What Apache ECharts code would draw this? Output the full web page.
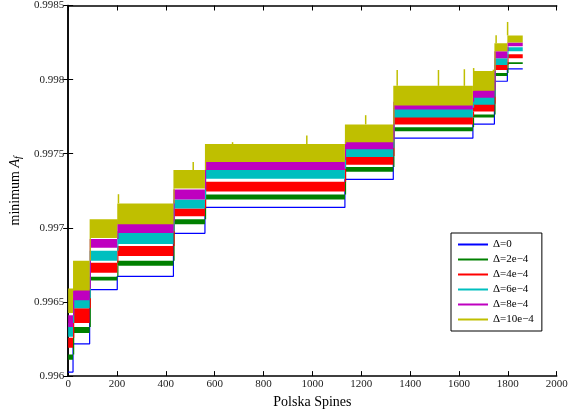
<!DOCTYPE html>
<html>
<head>
<meta charset="utf-8">
<script src="https://cdn.jsdelivr.net/npm/echarts@6/dist/echarts.min.js"></script>
<style>
  html, body { margin: 0; padding: 0; background: #fff; }
  #main { width: 577px; height: 414px; }
</style>
</head>
<body>
<div id="main"></div>
<script>
// step boundaries on the x axis (shared by all series)
const segX = [0, 20, 88, 201, 431, 560, 1133, 1331, 1657, 1745, 1798, 1861];

// Δ=0, one level per segment
const blueLevel = [0.996027, 0.996218, 0.996583, 0.996673, 0.996963, 0.997138, 0.997327, 0.997605, 0.9977, 0.997989, 0.998073];

// noisy series: lower / upper edge of the band per segment
const greenLow  = [0.996111, 0.996291, 0.996645, 0.996745, 0.997025, 0.997191, 0.997378, 0.997651, 0.997745, 0.998025, 0.998105];
const greenHigh = [0.996145, 0.996331, 0.996671, 0.996778, 0.997058, 0.997225, 0.997411, 0.997678, 0.997765, 0.998045, 0.998118];
const redLow    = [0.996191, 0.996358, 0.996698, 0.996811, 0.997078, 0.997245, 0.997425, 0.997698, 0.997785, 0.998065, 0.998145];
const redHigh   = [0.996258, 0.996458, 0.996765, 0.996878, 0.997131, 0.997311, 0.997485, 0.997751, 0.997838, 0.998098, 0.998171];
const cyanLow   = [0.996265, 0.996458, 0.996778, 0.996891, 0.997131, 0.997331, 0.997478, 0.997745, 0.997831, 0.998098, 0.998191];
const cyanHigh  = [0.996358, 0.996525, 0.996845, 0.996978, 0.997191, 0.997398, 0.997538, 0.997811, 0.997885, 0.998145, 0.998218];
const magLow    = [0.996331, 0.996511, 0.996865, 0.996965, 0.997191, 0.997391, 0.997531, 0.997798, 0.997878, 0.998145, 0.998225];
const magHigh   = [0.996411, 0.996591, 0.996925, 0.997045, 0.997258, 0.997458, 0.997591, 0.997851, 0.997931, 0.998191, 0.998251];
const yelLow    = [0.996425, 0.996578, 0.996931, 0.997025, 0.997265, 0.997445, 0.997578, 0.997825, 0.997925, 0.998191, 0.998251];
const yelHigh   = [0.996591, 0.996778, 0.997058, 0.997165, 0.997391, 0.997565, 0.997698, 0.997958, 0.998058, 0.998245, 0.998298];

// tallest spikes of Δ=10e-4 [x, top]
const yelSpikes = [[206, 0.997227], [512, 0.997445], [673, 0.997578], [977, 0.997623], [1218, 0.99776],
                   [1347, 0.998065], [1516, 0.998065], [1622, 0.99807], [1660, 0.998078], [1741, 0.998067],
                   [1752, 0.9983], [1799, 0.998389]];

const names = ['Δ=0', 'Δ=2e−4', 'Δ=4e−4', 'Δ=6e−4', 'Δ=8e−4', 'Δ=10e−4'];
const colors = ['#0000ff', '#008000', '#ff0000', '#00bfbf', '#bf00bf', '#bfbf00'];

const FONT = 'Liberation Serif';

function bandData(low, high) {
  return low.map((v, i) => [segX[i], segX[i + 1], v, high[i], i > 0 ? high[i - 1] : v]);
}

function renderBand(params, api) {
  const p0 = api.coord([api.value(0), api.value(3)]);
  const p1 = api.coord([api.value(1), api.value(2)]);
  const j = api.coord([api.value(0), api.value(4)]);
  const color = api.visual('color');
  return {
    type: 'group',
    children: [{
      type: 'rect',
      shape: { x: p0[0], y: p0[1], width: p1[0] - p0[0], height: p1[1] - p0[1] },
      style: { fill: color }
    }, {
      type: 'rect',
      shape: { x: p0[0], y: Math.min(j[1], p1[1]), width: 1.2, height: Math.abs(j[1] - p1[1]) },
      style: { fill: color }
    }]
  };
}

function bandSeries(idx, low, high) {
  return {
    name: names[idx],
    type: 'custom',
    renderItem: renderBand,
    itemStyle: { color: colors[idx] },
    encode: { x: [0, 1], y: [2, 3] },
    data: bandData(low, high),
    clip: true,
    z: 2 + idx
  };
}

function segOf(x) {
  let k = 0;
  for (let i = 0; i < segX.length - 1; i++) if (x >= segX[i]) k = i;
  return k;
}

const blueData = segX.map((x, i) => [x, blueLevel[Math.min(i, blueLevel.length - 1)]]);

const chart = echarts.init(document.getElementById('main'));
chart.setOption({
  animation: false,
  textStyle: { fontFamily: FONT },
  grid: { left: 66.7, right: 20.3, top: 1, bottom: 37.3 },
  legend: {
    orient: 'vertical',
    left: 451,
    top: 233,
    data: names,
    icon: 'rect',
    itemWidth: 30,
    itemHeight: 2,
    itemGap: 4,
    padding: [6, 8, 6, 7],
    borderColor: '#000',
    borderWidth: 1,
    backgroundColor: '#fff',
    textStyle: { fontFamily: FONT, fontSize: 11, color: '#000' }
  },
  xAxis: [{
    type: 'value', min: 0, max: 2000, interval: 200,
    name: 'Polska Spines', nameLocation: 'middle', nameGap: 15,
    nameTextStyle: { fontFamily: FONT, fontSize: 14, color: '#000' },
    axisLine: { lineStyle: { color: '#000', width: 1.5 } },
    axisTick: { inside: true, length: 5, lineStyle: { color: '#000' } },
    axisLabel: { fontFamily: FONT, fontSize: 11, color: '#222', margin: 3, formatter: v => String(v) },
    splitLine: { show: false }
  }, {
    type: 'value', min: 0, max: 2000, interval: 200, position: 'top',
    axisLine: { lineStyle: { color: '#000', width: 1.5 } },
    axisTick: { inside: true, length: 5, lineStyle: { color: '#000' } },
    axisLabel: { show: false },
    splitLine: { show: false }
  }],
  yAxis: [{
    type: 'value', min: 0.996, max: 0.9985, interval: 0.0005,
    name: '{n|minimum }{i|A}{s|f}', nameLocation: 'middle', nameGap: 43,
    nameTextStyle: {
      fontFamily: FONT, fontSize: 14, color: '#000',
      rich: {
        n: { fontFamily: FONT, fontSize: 14, color: '#000' },
        i: { fontFamily: FONT, fontSize: 14, fontStyle: 'italic', color: '#000' },
        s: { fontFamily: FONT, fontSize: 10, fontStyle: 'italic', color: '#000', padding: [6, 0, 0, 0] }
      }
    },
    axisLine: { lineStyle: { color: '#000', width: 1.5 } },
    axisTick: { inside: true, length: 5, lineStyle: { color: '#000' } },
    axisLabel: {
      fontFamily: FONT, fontSize: 11, color: '#222', margin: 4,
      formatter: v => String(+v.toFixed(4))
    },
    splitLine: { show: false }
  }, {
    type: 'value', min: 0.996, max: 0.9985, interval: 0.0005, position: 'right',
    axisLine: { show: true, lineStyle: { color: '#000', width: 1.5 } },
    axisTick: { inside: true, length: 5, lineStyle: { color: '#000' } },
    axisLabel: { show: false },
    splitLine: { show: false }
  }],
  series: [
    {
      name: names[0],
      type: 'line',
      step: 'end',
      symbol: 'none',
      data: blueData,
      itemStyle: { color: colors[0] },
      lineStyle: { color: colors[0], width: 1.2 },
      z: 1
    },
    bandSeries(1, greenLow, greenHigh),
    bandSeries(2, redLow, redHigh),
    bandSeries(3, cyanLow, cyanHigh),
    bandSeries(4, magLow, magHigh),
    bandSeries(5, yelLow, yelHigh),
    {
      name: names[5],
      type: 'custom',
      itemStyle: { color: colors[5] },
      encode: { x: 0, y: 1 },
      data: yelSpikes,
      z: 8,
      renderItem: function (params, api) {
        const x = api.value(0);
        const k = segOf(x);
        const top = api.coord([x, api.value(1)]);
        const base = api.coord([x, yelHigh[k]]);
        return {
          type: 'line',
          shape: { x1: top[0], y1: top[1], x2: base[0], y2: base[1] },
          style: { stroke: api.visual('color'), lineWidth: 1.5 }
        };
      }
    }
  ]
});
</script>
</body>
</html>
